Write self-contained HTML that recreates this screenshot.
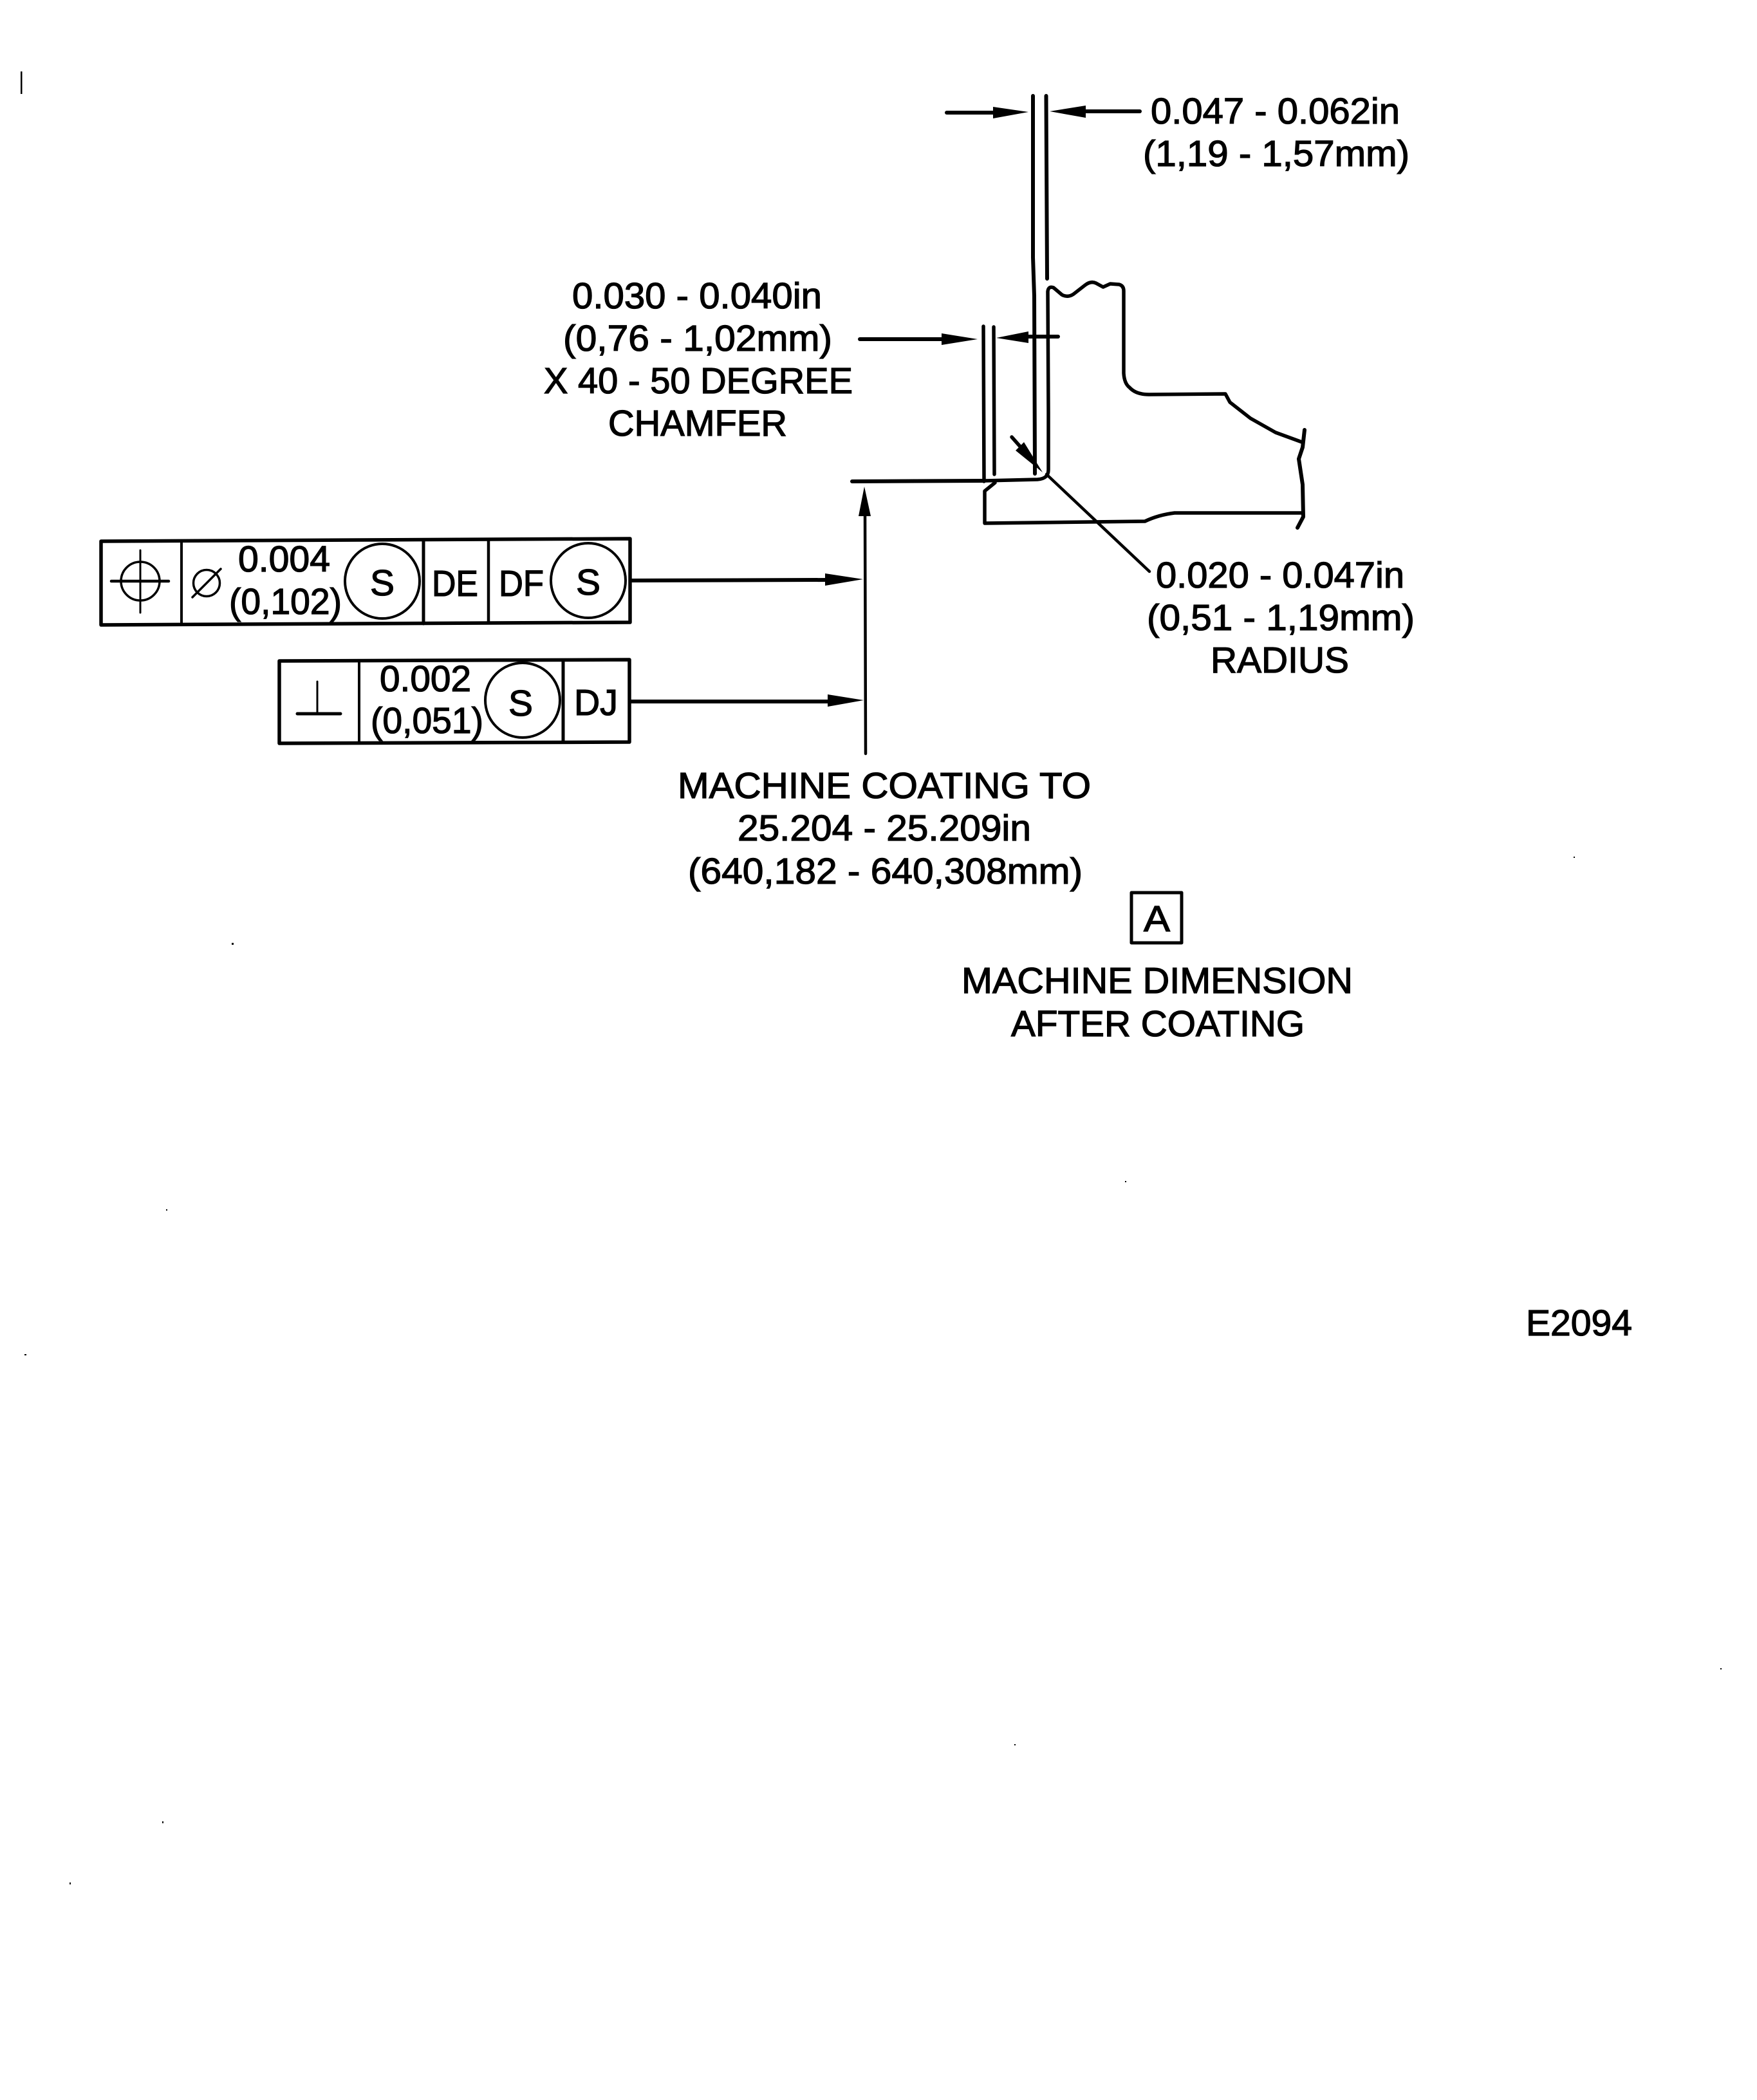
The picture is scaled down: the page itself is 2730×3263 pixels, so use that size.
<!DOCTYPE html>
<html><head><meta charset="utf-8"><style>
html,body{margin:0;padding:0;background:#fff}
svg{display:block}
text{font-family:"Liberation Sans",sans-serif;font-size:57px;fill:#000;stroke:#000;stroke-width:1.3px}
.l{fill:none;stroke:#000;stroke-linejoin:round;stroke-linecap:round}
</style></head><body>
<svg xmlns="http://www.w3.org/2000/svg" width="2730" height="3263" viewBox="0 0 2730 3263">
<rect width="2730" height="3263" fill="#fff"/>
<rect x="32" y="111" width="2.5" height="35" fill="#000"/>

<!-- coating / substrate lines -->
<polyline class="l" stroke-width="6" points="1605,149 1605,400 1607,460 1608,736"/>
<polyline class="l" stroke-width="6" points="1625.5,149 1627,433"/>
<polyline class="l" stroke-width="5.5" points="1528,507 1529,748"/>
<polyline class="l" stroke-width="5.5" points="1544,508 1545,737"/>

<!-- part profile -->
<path class="l" stroke-width="5.5" d="M1530,747 L1612,745 Q1629,744 1629,730 L1629,640 L1628,453 Q1629,444 1637,447 L1650,458 Q1659,463 1668,457 L1686,443 Q1695,436 1703,440 L1714,446 L1725,441 L1739,442 Q1746,444 1746,452 L1746,580 Q1747,596 1755,602 Q1765,613 1785,613 L1904,612 L1911,625 L1943,650 L1982,672 L2023,687"/>
<path class="l" stroke-width="6" d="M2027,668 L2024,695 L2018,713 L2024,753 L2025,803 L2016,820"/>
<path class="l" stroke-width="5.5" d="M2023,797 L1825,797 Q1800,800 1779,810 L1530,813 L1530,763 L1546,750"/>

<!-- top dimension arrows -->
<line class="l" stroke-width="6" x1="1471" y1="175" x2="1550" y2="175"/>
<polygon points="1598,174 1543,166 1543,184"/>
<line class="l" stroke-width="6" x1="1680" y1="173" x2="1771" y2="173"/>
<polygon points="1631,173 1687,164 1687,183"/>

<!-- chamfer dimension arrows -->
<line class="l" stroke-width="6" x1="1336" y1="527" x2="1470" y2="527"/>
<polygon points="1519,527 1463,518 1463,536"/>
<line class="l" stroke-width="6" x1="1595" y1="523" x2="1644" y2="523"/>
<polygon points="1548,525 1598,515 1598,533"/>

<!-- radius arrow and leader -->
<line class="l" stroke-width="5.5" x1="1572" y1="679" x2="1595" y2="705"/>
<polygon points="1620,734 1578,700 1591,687"/>
<line class="l" stroke-width="4.5" x1="1626" y1="737" x2="1786" y2="888"/>

<!-- extension and vertical leader -->
<line class="l" stroke-width="6" x1="1324" y1="748" x2="1527" y2="747"/>
<line class="l" stroke-width="4.5" x1="1344" y1="790" x2="1345" y2="1171"/>
<polygon points="1343,756 1334,802 1353,802"/>

<!-- feature control frame 1 -->
<polygon class="l" stroke-width="5.5" points="157,841 979,837 979,967 157,971"/>
<line class="l" stroke-width="4" x1="282" y1="841" x2="282" y2="970"/>
<line class="l" stroke-width="5" x1="658" y1="839" x2="658" y2="969"/>
<line class="l" stroke-width="4.5" x1="759" y1="838" x2="759" y2="968"/>
<ellipse class="l" stroke-width="3.5" cx="218" cy="903" rx="30" ry="30"/>
<line class="l" stroke-width="3" x1="218" y1="855" x2="218" y2="952"/>
<line class="l" stroke-width="4.5" x1="173" y1="903" x2="262" y2="903"/>
<circle class="l" stroke-width="3.5" cx="321" cy="906" r="20.5"/>
<line class="l" stroke-width="3.5" x1="299" y1="928" x2="343" y2="884"/>
<circle class="l" stroke-width="4" cx="594" cy="903" r="58"/>
<circle class="l" stroke-width="4" cx="914" cy="902" r="58"/>
<text x="370" y="888" textLength="143" lengthAdjust="spacingAndGlyphs">0.004</text>
<text x="356" y="954" textLength="175" lengthAdjust="spacingAndGlyphs">(0,102)</text>
<text x="575" y="925" textLength="38" lengthAdjust="spacingAndGlyphs">S</text>
<text x="671" y="926" textLength="72" lengthAdjust="spacingAndGlyphs">DE</text>
<text x="775" y="926" textLength="70" lengthAdjust="spacingAndGlyphs">DF</text>
<text x="895" y="924" textLength="38" lengthAdjust="spacingAndGlyphs">S</text>

<!-- feature control frame 2 -->
<polygon class="l" stroke-width="5.5" points="434,1027 978,1025 978,1153 434,1155"/>
<line class="l" stroke-width="4" x1="558" y1="1027" x2="558" y2="1154"/>
<line class="l" stroke-width="5" x1="875" y1="1026" x2="875" y2="1153"/>
<line class="l" stroke-width="3" x1="493" y1="1059" x2="493" y2="1108"/>
<line class="l" stroke-width="5" x1="462" y1="1109" x2="529" y2="1109"/>
<circle class="l" stroke-width="4" cx="812" cy="1088" r="58"/>
<text x="590" y="1074" textLength="142" lengthAdjust="spacingAndGlyphs">0.002</text>
<text x="576" y="1139" textLength="175" lengthAdjust="spacingAndGlyphs">(0,051)</text>
<text x="790" y="1112" textLength="38" lengthAdjust="spacingAndGlyphs">S</text>
<text x="892" y="1111" textLength="68" lengthAdjust="spacingAndGlyphs">DJ</text>

<!-- frame leaders -->
<line class="l" stroke-width="6" x1="982" y1="902" x2="1290" y2="901"/>
<polygon points="1341,900 1282,891 1282,910"/>
<line class="l" stroke-width="6" x1="981" y1="1090" x2="1292" y2="1090"/>
<polygon points="1342,1088 1286,1079 1286,1098"/>

<!-- datum box -->
<rect class="l" stroke-width="5" x="1758" y="1387" width="78" height="78"/>
<text x="1777" y="1447" textLength="41" lengthAdjust="spacingAndGlyphs">A</text>

<!-- labels -->
<text x="1788" y="192" textLength="387" lengthAdjust="spacingAndGlyphs">0.047 - 0.062in</text>
<text x="1776" y="258" textLength="414" lengthAdjust="spacingAndGlyphs">(1,19 - 1,57mm)</text>
<text x="889" y="479" textLength="388" lengthAdjust="spacingAndGlyphs">0.030 - 0.040in</text>
<text x="875" y="545" textLength="418" lengthAdjust="spacingAndGlyphs">(0,76 - 1,02mm)</text>
<text x="845" y="611" textLength="480" lengthAdjust="spacingAndGlyphs">X 40 - 50 DEGREE</text>
<text x="945" y="677" textLength="278" lengthAdjust="spacingAndGlyphs">CHAMFER</text>
<text x="1796" y="913" textLength="386" lengthAdjust="spacingAndGlyphs">0.020 - 0.047in</text>
<text x="1782" y="979" textLength="416" lengthAdjust="spacingAndGlyphs">(0,51 - 1,19mm)</text>
<text x="1881" y="1045" textLength="215" lengthAdjust="spacingAndGlyphs">RADIUS</text>
<text x="1053" y="1240" textLength="642" lengthAdjust="spacingAndGlyphs">MACHINE COATING TO</text>
<text x="1146" y="1306" textLength="456" lengthAdjust="spacingAndGlyphs">25.204 - 25.209in</text>
<text x="1069" y="1373" textLength="613" lengthAdjust="spacingAndGlyphs">(640,182 - 640,308mm)</text>
<text x="1494" y="1543" textLength="608" lengthAdjust="spacingAndGlyphs">MACHINE DIMENSION</text>
<text x="1571" y="1610" textLength="456" lengthAdjust="spacingAndGlyphs">AFTER COATING</text>
<text x="2371" y="2075" textLength="165" lengthAdjust="spacingAndGlyphs">E2094</text>

<!-- scan specks -->
<g fill="#000">
<rect x="360" y="1465" width="3" height="3"/>
<rect x="258" y="1879" width="2" height="2"/>
<rect x="38" y="2104" width="3" height="2"/>
<rect x="1748" y="1835" width="2" height="2"/>
<rect x="2445" y="1331" width="2" height="2"/>
<rect x="2673" y="2592" width="2" height="2"/>
<rect x="1576" y="2710" width="2" height="2"/>
<rect x="252" y="2830" width="2" height="3"/>
<rect x="108" y="2925" width="2" height="3"/>
</g>
</svg>
</body></html>
